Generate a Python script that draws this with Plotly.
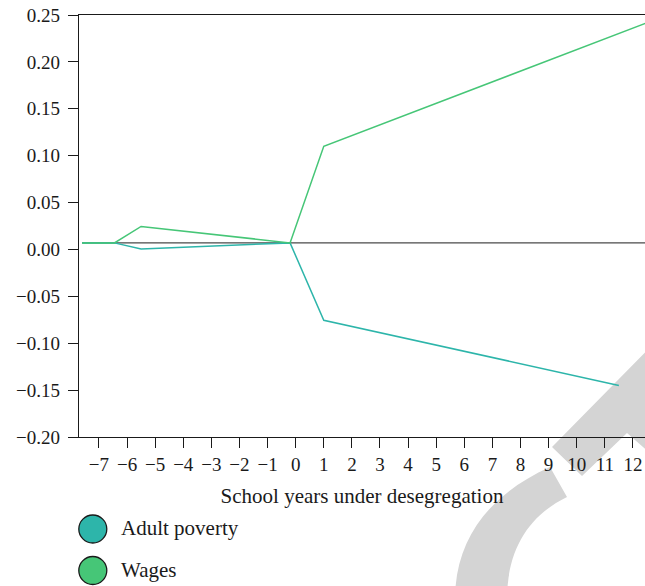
import plotly.graph_objects as go

# ---- data ----
poverty_x = [-7.6, -6.45, -5.5, -0.2, 1.0, 11.5]
poverty_y = [0.007, 0.007, 0.0005, 0.007, -0.0755, -0.145]
wages_x = [-7.6, -6.45, -5.5, -0.2, 1.0, 12.5]
wages_y = [0.007, 0.007, 0.0245, 0.007, 0.110, 0.2418]
ref_x = [-7.6, 12.5]
ref_y = [0.007, 0.007]
x_ticks = list(range(-7, 13))
y_ticks = [-0.20, -0.15, -0.10, -0.05, 0.00, 0.05, 0.10, 0.15, 0.20, 0.25]
series_names = ["Adult poverty", "Wages"]
series_colors = ["#2db5aa", "#46c677"]

W, H = 645, 586
ML, MR, MT, MB = 79, 0, 15, 149
PW, PH = W - ML - MR, H - MT - MB
FONT = "Liberation Serif"


def px(x):
    return (x - ML) / PW


def py(y):
    return (H - MB - y) / PH


fig = go.Figure()
fig.add_trace(go.Scatter(x=ref_x, y=ref_y, mode="lines",
                         line=dict(color="#4a4a4a", width=1.2),
                         showlegend=False, hoverinfo="skip"))
fig.add_trace(go.Scatter(x=poverty_x, y=poverty_y, mode="lines", name=series_names[0],
                         line=dict(color=series_colors[0], width=1.5), showlegend=False))
fig.add_trace(go.Scatter(x=wages_x, y=wages_y, mode="lines", name=series_names[1],
                         line=dict(color=series_colors[1], width=1.5), showlegend=False))

shapes = []
# watermark (light grey, behind everything)
chev = [(552, 447), (582, 476), (627, 433), (665, 466), (672, 325)]
path = "M " + " L ".join(f"{px(a):.4f},{py(b):.4f}" for a, b in chev) + " Z"
shapes.append(dict(type="path", path=path, xref="paper", yref="paper",
                   fillcolor="#d4d4d4", line=dict(width=0), layer="below"))
arc = (f"M {px(455):.4f},{py(600):.4f} "
       f"C {px(455):.4f},{py(540):.4f} {px(488):.4f},{py(495):.4f} {px(550):.4f},{py(467):.4f} "
       f"L {px(567):.4f},{py(497):.4f} "
       f"C {px(528):.4f},{py(516):.4f} {px(507):.4f},{py(550):.4f} {px(507):.4f},{py(600):.4f} Z")
shapes.append(dict(type="path", path=arc, xref="paper", yref="paper",
                   fillcolor="#d4d4d4", line=dict(width=0), layer="below"))

# manual legend with large circles
annotations = []
legend_y = [529, 570.5]
for name, col, ly in zip(series_names, series_colors, legend_y):
    shapes.append(dict(type="circle", xref="paper", yref="paper",
                       xsizemode="pixel", ysizemode="pixel",
                       xanchor=px(92.8), yanchor=py(ly),
                       x0=-14, x1=14, y0=-14, y1=14,
                       fillcolor=col, line=dict(color="#1a1a1a", width=1.3)))
    annotations.append(dict(text=name, xref="paper", yref="paper",
                            x=px(119), y=py(ly - 1), xanchor="left", yanchor="middle",
                            showarrow=False, font=dict(family=FONT, size=21, color="#1a1a1a")))

fig.update_layout(
    width=W, height=H,
    margin=dict(l=ML, r=MR, t=MT, b=MB, pad=0, autoexpand=False),
    paper_bgcolor="white", plot_bgcolor="white",
    font=dict(family=FONT, size=19, color="#1a1a1a"),
    shapes=shapes, annotations=annotations,
    showlegend=False,
)
fig.update_xaxes(range=[-7.71, 12.43], tickvals=x_ticks, ticktext=[str(v) if v >= 0 else "\u2212" + str(-v) for v in x_ticks],
                 automargin=False,
                 showgrid=False, zeroline=False, showline=True, linecolor="#1a1a1a", linewidth=1.3,
                 mirror=True, ticks="outside", ticklen=10, tickwidth=1.3, tickcolor="#1a1a1a",
                 tickfont=dict(family=FONT, size=19),
                 title=dict(text="School years under desegregation", standoff=14,
                            font=dict(family=FONT, size=21)))
fig.update_yaxes(range=[-0.20, 0.25], tickvals=y_ticks, tickformat=".2f",
                 automargin=False,
                 showgrid=False, zeroline=False, showline=True, linecolor="#1a1a1a", linewidth=1.3,
                 ticks="outside", ticklen=10, tickwidth=1.3, tickcolor="#1a1a1a",
                 tickfont=dict(family=FONT, size=19), ticklabelstandoff=4)

fig.write_html("out.html", config={"displayModeBar": False},
               post_script="document.body.style.margin='0px';document.body.style.overflow='hidden';")
